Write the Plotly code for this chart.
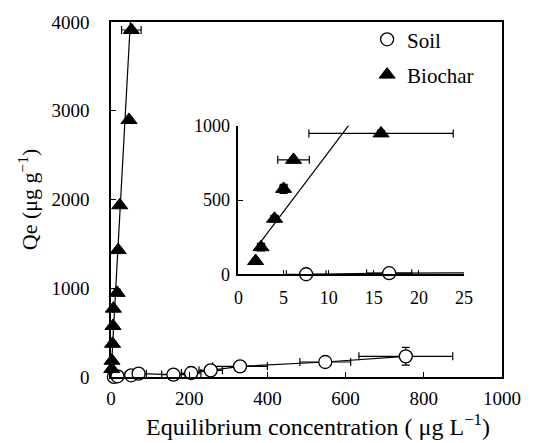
import plotly.graph_objects as go

# ---- data ----
soil_x = [7.5, 16.7, 51.6, 70.6, 159.6, 205, 255, 330, 548, 754]
soil_y = [1, 8, 19, 38, 27, 45, 75, 120, 169, 233]
soil_xerr = [2.2, 2.5, 15, 20, 30, 25, 30, 70, 65, 120]
soil_yerr = [2, 3, 8, 8, 8, 10, 12, 15, 20, 100]

bio_x = [1.9, 2.5, 4.0, 5.0, 6.1, 15.8, 18.3, 22.4, 46, 52]
bio_y = [90, 183, 374, 575, 770, 948, 1430, 1935, 2896, 3910]
bio_xerr = [0.3, 0.4, 0.4, 0.4, 1.75, 8.0, 1.0, 1.0, 2.0, 25]
bio_yerr = [10, 25, 20, 30, 15, 20, 20, 20, 20, 20]

bio_fit_x = [2.3, 12.2, 50.5]
bio_fit_y = [205, 1000, 4080]

x_title = "Equilibrium concentration ( μg L<sup>−1</sup>)"
y_title = "Qe (μg g<sup>−1</sup>)"

FONT = "Times New Roman, Liberation Serif, serif"

fig = go.Figure()

def add_series(xa, ya, show):
    fig.add_trace(go.Scatter(x=soil_x, y=soil_y, mode="lines",
                             line=dict(color="black", width=1.2),
                             xaxis=xa, yaxis=ya, showlegend=False, hoverinfo="skip"))
    fig.add_trace(go.Scatter(x=bio_fit_x, y=bio_fit_y, mode="lines",
                             line=dict(color="black", width=1.2),
                             xaxis=xa, yaxis=ya, showlegend=False, hoverinfo="skip"))
    fig.add_trace(go.Scatter(
        x=soil_x, y=soil_y, mode="markers", name="Soil",
        marker=dict(symbol="circle", size=13, color="white",
                    line=dict(color="black", width=1.3)),
        error_x=dict(type="data", array=soil_xerr, color="black", thickness=1.2, width=4),
        error_y=dict(type="data", array=soil_yerr, color="black", thickness=1.2, width=4),
        xaxis=xa, yaxis=ya, showlegend=show, cliponaxis=False,
        legendgroup="a"))
    fig.add_trace(go.Scatter(
        x=bio_x, y=bio_y, mode="markers", name="Biochar",
        marker=dict(symbol="triangle-up", size=14, color="black",
                    line=dict(color="black", width=1)),
        error_x=dict(type="data", array=bio_xerr, color="black", thickness=1.2, width=4),
        error_y=dict(type="data", array=bio_yerr, color="black", thickness=1.2, width=4),
        xaxis=xa, yaxis=ya, showlegend=show, cliponaxis=False,
        legendgroup="b"))

add_series("x", "y", True)
add_series("x2", "y2", False)

def ax(size, **kw):
    d = dict(showgrid=False, zeroline=False, ticks="inside", ticklen=5,
             tickcolor="black", linecolor="black", linewidth=1.5,
             tickfont=dict(family=FONT, size=size, color="black"))
    d.update(kw)
    return d

fig.update_layout(
    width=533, height=443,
    margin=dict(l=111, r=21, t=21, b=66),
    paper_bgcolor="white", plot_bgcolor="white",
    font=dict(family=FONT, size=19, color="black"),
    xaxis=ax(19, range=[0, 1000], tickvals=[0, 200, 400, 600, 800, 1000],
             showline=True, mirror=True, ticklabelstandoff=3),
    yaxis=ax(19, range=[0, 4000], tickvals=[0, 1000, 2000, 3000, 4000],
             showline=True, mirror=True, ticklabelstandoff=16,
             title=dict(text=y_title, font=dict(family=FONT, size=22), standoff=8)),
    xaxis2=ax(18, domain=[0.326, 0.903], anchor="y2", range=[0, 25],
              tickvals=[0, 5, 10, 15, 20, 25], showline=True, mirror=False,
              ticklabelstandoff=6),
    yaxis2=ax(18, domain=[0.289, 0.708], anchor="x2", range=[0, 1000],
              tickvals=[0, 500, 1000], showline=True, mirror=False,
              ticklabelstandoff=3),
    legend=dict(x=0.655, y=1.008, xanchor="left", yanchor="top",
                bgcolor="rgba(0,0,0,0)", font=dict(family=FONT, size=21),
                tracegroupgap=5, traceorder="grouped"),
    annotations=[dict(text=x_title, xref="paper", yref="paper",
                      x=0.529, y=-0.136, xanchor="center", yanchor="middle",
                      showarrow=False, font=dict(family=FONT, size=24, color="black"))],
)

fig.write_html("out.html")
